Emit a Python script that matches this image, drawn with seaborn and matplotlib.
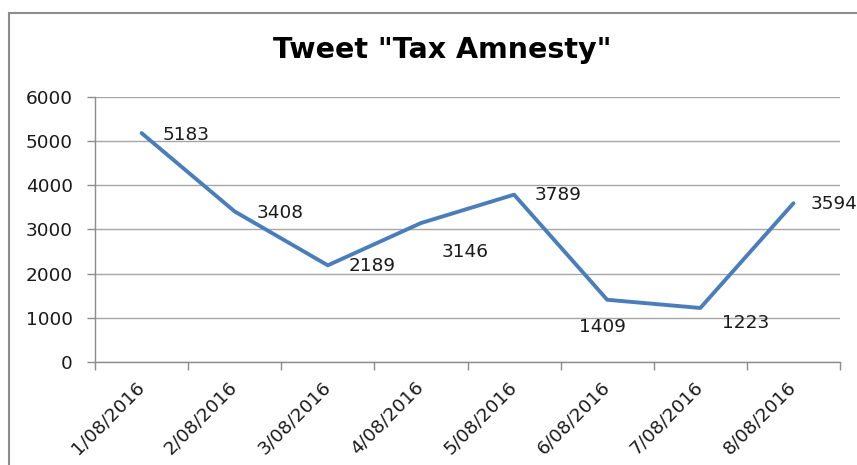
import matplotlib
matplotlib.use("Agg")
import matplotlib.pyplot as plt
import seaborn as sns
import pandas as pd
from matplotlib.patches import Rectangle

dates = ["1/08/2016", "2/08/2016", "3/08/2016", "4/08/2016",
         "5/08/2016", "6/08/2016", "7/08/2016", "8/08/2016"]
tweets = [5183, 3408, 2189, 3146, 3789, 1409, 1223, 3594]
yticks = [0, 1000, 2000, 3000, 4000, 5000, 6000]
title = 'Tweet "Tax Amnesty"'

# label offsets in pixels (style only)
label_offsets = [(44, -2), (45, -2), (44, -1), (44, -29), (44, 0), (-5, -27), (45, -15), (41, -1)]

sns.set_theme(style="white")
plt.rcParams["font.family"] = ["DejaVu Sans"]

FS = 13.3
W, H = 857, 465
fig = plt.figure(figsize=(W / 100, H / 100), dpi=100)
ax = fig.add_axes([95 / W, (H - 362) / H, 745 / W, 265 / H])

df = pd.DataFrame({"date": dates, "tweets": tweets})
sns.lineplot(data=df, x="date", y="tweets", ax=ax, color="#4A7EBB",
             linewidth=2.8, sort=False)

ax.set_xlim(-0.5, len(dates) - 0.5)
ax.set_ylim(yticks[0], yticks[-1])
ax.set_yticks(yticks)
ax.set_yticklabels([str(v) for v in yticks])
ax.grid(axis="y", color="#A6A6A6", linewidth=1)
ax.set_axisbelow(True)

ax.set_xticks([i - 0.5 for i in range(len(dates) + 1)])
ax.set_xticklabels([])
ax.set_xticks(range(len(dates)), minor=True)
ax.set_xticklabels(dates, minor=True, rotation=45, ha="right",
                   rotation_mode="anchor", va="center")
ax.tick_params(axis="x", which="major", length=6, width=1, color="#8C8C8C",
               direction="out", bottom=True)
ax.tick_params(axis="x", which="minor", length=0, pad=16, labelsize=FS,
               labelcolor="#1a1a1a")
ax.tick_params(axis="y", length=6, width=1, color="#8C8C8C", direction="out",
               left=True, pad=10, labelsize=FS, labelcolor="#1a1a1a")
ax.set_xlabel("")
ax.set_ylabel("")

for s in ["top", "right"]:
    ax.spines[s].set_visible(False)
for s in ["left", "bottom"]:
    ax.spines[s].set_color("#8C8C8C")
    ax.spines[s].set_linewidth(1)

for i, (v, off) in enumerate(zip(tweets, label_offsets)):
    ax.annotate(str(v), (i, v), xytext=off, textcoords="offset pixels",
                ha="center", va="center", fontsize=FS, color="#1a1a1a",
                annotation_clip=False)

fig.text(442 / W, 1 - 50 / H, title, ha="center", va="center",
         fontsize=20.5, fontweight="bold", color="black")

fig.patches.append(Rectangle((9 / W, -0.1), 1.2, 1 - 13 / H + 0.1,
                             transform=fig.transFigure, fill=False,
                             edgecolor="#8C8C8C", linewidth=1.5))

fig.savefig("out.png", dpi=100)
